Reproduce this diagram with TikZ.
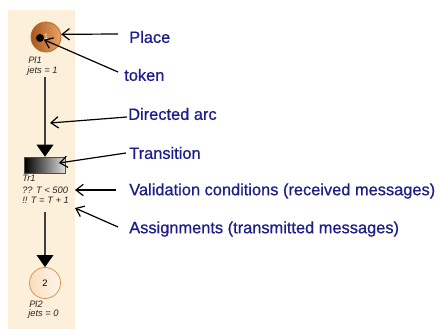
\documentclass[tikz,border=0pt]{standalone}
\usepackage{fontspec}
\setmainfont{Liberation Sans}
\newfontfamily\captionface[FakeBold=0.7]{Liberation Sans}
\usetikzlibrary{arrows.meta}
\definecolor{panel}{HTML}{FCF0DA}
\definecolor{navy}{HTML}{1E1E8A}
\definecolor{placedark}{HTML}{A9561C}
\definecolor{placelight}{HTML}{E9A468}
\definecolor{placeedge}{HTML}{B8682C}
\definecolor{emptyplace}{HTML}{FBDDBF}
\definecolor{emptyedge}{HTML}{DC9358}
\begin{document}
\begin{tikzpicture}[x=0.75pt,y=-0.75pt,
  callout/.style={draw=black, line width=0.9pt, -{Straight Barb[length=5.5pt,width=8.5pt]}},
  arcline/.style={draw=black!75, line width=0.9pt, -{Triangle[length=9pt,width=12.5pt,fill=black,color=black]}},
  caption/.style={anchor=west, inner sep=0pt, text=navy, font=\captionface\fontsize{12.3}{14}\selectfont},
  small/.style={anchor=west, inner sep=0pt, text=black!85, font=\fontsize{7}{8}\selectfont\itshape},
  place/.style={circle, inner sep=0pt, minimum size=22.5pt, line width=0.6pt}]
% canvas and the beige strip behind the net
\useasboundingbox (0,0) rectangle (440,329);
\fill[white] (0,0) rectangle (440,329);
\fill[panel] (8,10) rectangle (75,329);

% upper place with its token
\node[place, draw=placeedge, left color=placedark, right color=placelight,
      text=white!90!orange, font=\fontsize{6}{7}\selectfont] (pl1) at (46,37) {1};
\node[circle, fill=black, inner sep=0pt, minimum size=6pt] (token) at (40,38) {};
\node[small] (pl1name) at (28,60) {Pl1};
\node[small] (pl1jets) at (27,71.5) {jets = 1};

% transition
\node[rectangle, minimum width=30.75pt, minimum height=12pt, draw=black!70,
      left color=black, right color=white!88!black] (tr1) at (45,165) {};
\node[small] (tr1name) at (22,178) {Tr1};
\node[small] (tr1cond) at (22,190) {?? T < 500};
\node[small] (tr1act) at (22,200) {!! T = T + 1};

% lower place
\node[place, minimum size=23.25pt, draw=emptyedge, left color=emptyplace, right color=white!92!orange,
      font=\fontsize{7}{8}\selectfont] (pl2) at (45,283) {2};
\node[small] (pl2name) at (29,304) {Pl2};
\node[small] (pl2jets) at (28,314) {jets = 0};

% directed arcs of the net
\coordinate (arc1top) at (45,77);
\coordinate (arc2top) at (45,212);
\draw[arcline] (arc1top) -- (tr1.north);
\draw[arcline] (arc2top) -- (pl2.north);

% explanatory captions
\node[caption] (lplace) at (129,37) {Place};
\node[caption] (ltoken) at (124,75) {token};
\node[caption] (larc) at (128,114) {Directed arc};
\node[caption] (ltrans) at (129,153) {Transition};
\node[caption] (lcond) at (129,191) {Validation conditions (received messages)};
\node[caption] (lact) at (129,229) {Assignments (transmitted messages)};

% callout ends
\coordinate (tplace) at (118,34);
\coordinate (ttoken) at (118,72);
\coordinate (tarc) at (127,117);
\coordinate (ttrans) at (126,153);
\coordinate (tcond) at (116,190);
\coordinate (tact) at (118,227);
\coordinate (arcmark) at (50,123);
\coordinate (transmark) at (59,163);
\coordinate (condmark) at (75,190);
\coordinate (actmark) at (75,208);

\draw[callout] (tplace) -- (pl1.10);
\draw[callout] (ttoken) -- (token);
\draw[callout] (tarc) -- (arcmark);
\draw[callout] (ttrans) -- (transmark);
\draw[callout] (tcond) -- (condmark);
\draw[callout] (tact) -- (actmark);
\end{tikzpicture}
\end{document}
